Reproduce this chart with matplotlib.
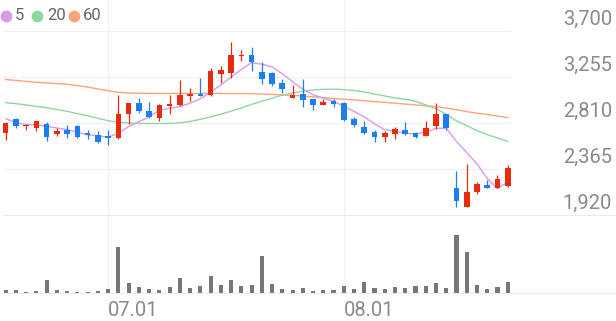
#!/usr/bin/env python3

import matplotlib
matplotlib.use("Agg")
import matplotlib.pyplot as plt
from matplotlib.lines import Line2D
import numpy as np

plt.rcParams["font.family"] = ["Roboto", "DejaVu Sans"]

# daily candles (50 sessions)
opens = [2715, 2850, 2780, 2765, 2805, 2700, 2745, 2785, 2710, 2690,
         2685, 2665, 2895, 3000, 2930, 2860, 2975, 2980, 3070, 3090,
         3080, 3285, 3290, 3455, 3470, 3300, 3290, 3200, 3055, 3095,
         3040, 2985, 3020, 3005, 2845, 2775, 2720, 2675, 2705, 2745,
         2710, 2685, 2785, 2895, 2185, 2000, 2140, 2215, 2185, 2205]
highs = [2815, 2860, 2805, 2830, 2820, 2765, 2795, 2790, 2740, 2730,
         2740, 3085, 3005, 3050, 3015, 2990, 3080, 3225, 3145, 3245,
         3340, 3365, 3595, 3520, 3545, 3400, 3305, 3235, 3180, 3235,
         3045, 3045, 3045, 3015, 2865, 2825, 2740, 2730, 2775, 2820,
         2720, 2825, 3005, 2900, 2350, 2415, 2235, 2260, 2310, 2400]
lows = [2650, 2765, 2740, 2735, 2640, 2685, 2665, 2665, 2655, 2620,
        2600, 2655, 2800, 2910, 2855, 2825, 2900, 2975, 3025, 3075,
        3070, 3200, 3245, 3410, 3310, 3190, 3165, 3105, 3050, 2965,
        2940, 2980, 2965, 2825, 2775, 2700, 2630, 2630, 2655, 2690,
        2665, 2680, 2755, 2745, 1995, 1995, 2125, 2180, 2180, 2195]
closes = [2810, 2785, 2795, 2825, 2675, 2730, 2705, 2675, 2695, 2625,
          2665, 2895, 3000, 2925, 2865, 2980, 2990, 3080, 3095, 3075,
          3315, 3320, 3465, 3470, 3400, 3240, 3190, 3135, 3080, 3035,
          2980, 3015, 2990, 2835, 2795, 2710, 2675, 2715, 2750, 2705,
          2675, 2765, 2895, 2760, 2060, 2140, 2220, 2185, 2270, 2375]
prev_closes = [2980, 2890, 2825, 2755]  # closes before the window, for ma5
volumes = [27, 33, 13, 17, 133, 30, 23, 13, 13, 23,
           37, 460, 100, 60, 40, 30, 63, 150, 50, 70,
           173, 83, 127, 73, 77, 367, 93, 40, 30, 53,
           20, 27, 27, 70, 37, 110, 53, 43, 60, 47,
           67, 70, 100, 50, 577, 413, 83, 43, 60, 107]
ma20 = [3007, 2997, 2985, 2970, 2958, 2940, 2923, 2900, 2880, 2855,
        2832, 2818, 2810, 2806, 2805, 2805, 2806, 2812, 2825, 2845,
        2870, 2895, 2925, 2955, 2990, 3020, 3050, 3080, 3100, 3118,
        3130, 3136, 3137, 3133, 3125, 3110, 3090, 3072, 3052, 3040,
        3020, 2985, 2948, 2895, 2830, 2785, 2735, 2698, 2665, 2632]
ma60 = [3230, 3222, 3213, 3204, 3198, 3192, 3185, 3172, 3157, 3140,
        3122, 3106, 3100, 3098, 3097, 3096, 3096, 3096, 3096, 3096,
        3096, 3096, 3095, 3095, 3094, 3090, 3086, 3082, 3077, 3071,
        3063, 3055, 3047, 3040, 3033, 3025, 3017, 3009, 3001, 2993,
        2985, 2977, 2968, 2955, 2938, 2920, 2905, 2892, 2877, 2862]

price_levels = [3700, 3255, 2810, 2365, 1920]
tick_idx = [10, 33]
tick_labels = ["07.01", "08.01"]

UP = "#e62c0c"
DOWN = "#1b7ff0"
GRID = "#f0f0f0"
W, H = 616, 321


def box(l, t, r, b):
    # pixel box -> figure fraction
    return [l / W, 1 - b / H, (r - l) / W, (b - t) / H]


fig = plt.figure(figsize=(W / 100, H / 100), dpi=100)
ax = fig.add_axes(box(3, 31, 511, 215))
axv = fig.add_axes(box(3, 215, 511, 293), sharex=ax)

x = np.arange(len(closes))
o, h, l, c = map(np.array, (opens, highs, lows, closes))
colors = np.where(c >= o, UP, DOWN)

# grid
for v in price_levels[:-1]:
    ax.axhline(v, color=GRID, lw=0.8, zorder=0)
for i in tick_idx:
    ax.axvline(i, ymin=0, ymax=215 / 184, color=GRID, lw=0.8, zorder=0, clip_on=False)
    axv.axvline(i, color=GRID, lw=0.8, zorder=0)
for yp in (215, 293):
    fig.add_artist(Line2D([3 / W, 1], [1 - yp / H] * 2, color="#ebebeb", lw=0.8))

# moving averages
allc = np.concatenate([prev_closes, closes])
ma5 = np.convolve(allc, np.ones(5) / 5, mode="valid")
ax.plot(x, ma60, color="#f9a47c", lw=1.0, zorder=1)
ax.plot(x, ma20, color="#8fd7a2", lw=1.0, zorder=1)
ax.plot(x, ma5, color="#d79be8", lw=1.0, zorder=1)

# candles
ax.vlines(x, l, h, colors=colors, lw=0.9, zorder=2)
body = np.maximum(np.abs(c - o), 14)
ax.bar(x, body, bottom=np.minimum(o, c), width=0.55, color=colors, zorder=3)

ax.set_xlim(-0.26, 49.32)
ax.set_ylim(1920, 3700)

# volume
axv.bar(x, volumes, width=0.4, color="#777777")
axv.set_ylim(0, max(volumes) * 78 / 57.7)

for a in (ax, axv):
    a.axis("off")

# price labels on the right
for v in price_levels:
    ax.annotate("{:,}".format(v), xy=(1, v), xycoords=("axes fraction", "data"),
                xytext=(101, 6), textcoords="offset pixels",
                ha="right", va="baseline", fontsize=14.5, color="#8a8a8a")

# date labels
for i, s in zip(tick_idx, tick_labels):
    axv.annotate(s, xy=(i, 0), xycoords=("data", "axes fraction"),
                 xytext=(0, -23), textcoords="offset pixels",
                 ha="left", va="baseline", fontsize=14.5, color="#8a8a8a")

# legend
for px, tx, lab, col in [(6, 15, "5", "#d79be8"), (37, 47, "20", "#8fd7a2"),
                         (74, 83, "60", "#f9a47c")]:
    fig.add_artist(Line2D([px / W], [1 - 15.7 / H], marker="o", ms=7.5,
                          color=col, lw=0))
    fig.text(tx / W, 1 - 15.7 / H, lab, ha="left", va="center",
             fontsize=12, color="#666666")

fig.savefig("out.png", dpi=100)
